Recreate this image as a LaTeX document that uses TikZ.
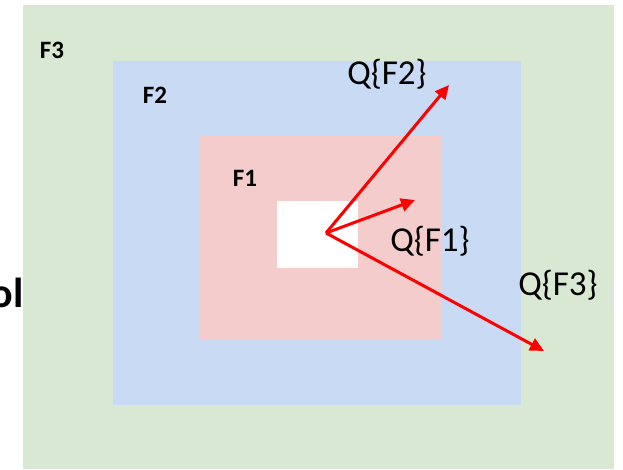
\documentclass[tikz,border=0pt]{standalone}
\usepackage{fontspec}
\setmainfont{Carlito}
\usetikzlibrary{arrows.meta}
\definecolor{gF3}{HTML}{D9E8D2}
\definecolor{bF2}{HTML}{C9DAF5}
\definecolor{pF1}{HTML}{F4CCCC}
\tikzset{
  flabel/.style={font=\bfseries\fontsize{25}{28}\selectfont, inner sep=0pt},
  qlabel/.style={font=\fontsize{35}{40}\selectfont, inner sep=0pt},
  qarrow/.style={draw=red, line width=3pt, -{Triangle[length=14pt,width=13pt]}},
}
\begin{document}
\begin{tikzpicture}[x=1pt,y=-1pt]
\useasboundingbox (0,0) rectangle (623,469);
\fill[gF3] (23,5) rectangle (614,469);
\fill[bF2] (113,61) rectangle (521,405);
\fill[pF1] (199,136) rectangle (441,339);
\fill[white] (277,201) rectangle (358,268);
\node[flabel] (f3) at (52,50) {F3};
\node[flabel] (f2) at (155,95) {F2};
\node[flabel] (f1) at (245,178) {F1};
\node[font=\bfseries\fontsize{42}{46}\selectfont, inner sep=0pt, anchor=base east] (ol) at (24,307) {ol};
\coordinate (o) at (326,233);
\coordinate (e2) at (449,85);
\coordinate (e1) at (415,200);
\coordinate (e3) at (544,351);
\draw[qarrow] (o) -- (e2);
\draw[qarrow] (o) -- (e1);
\draw[qarrow] (o) -- (e3);
\node[qlabel] (q2) at (387,74) {Q\{F2\}};
\node[qlabel] (q1) at (430,241) {Q\{F1\}};
\node[qlabel] (q3) at (558,285) {Q\{F3\}};
\end{tikzpicture}
\end{document}
